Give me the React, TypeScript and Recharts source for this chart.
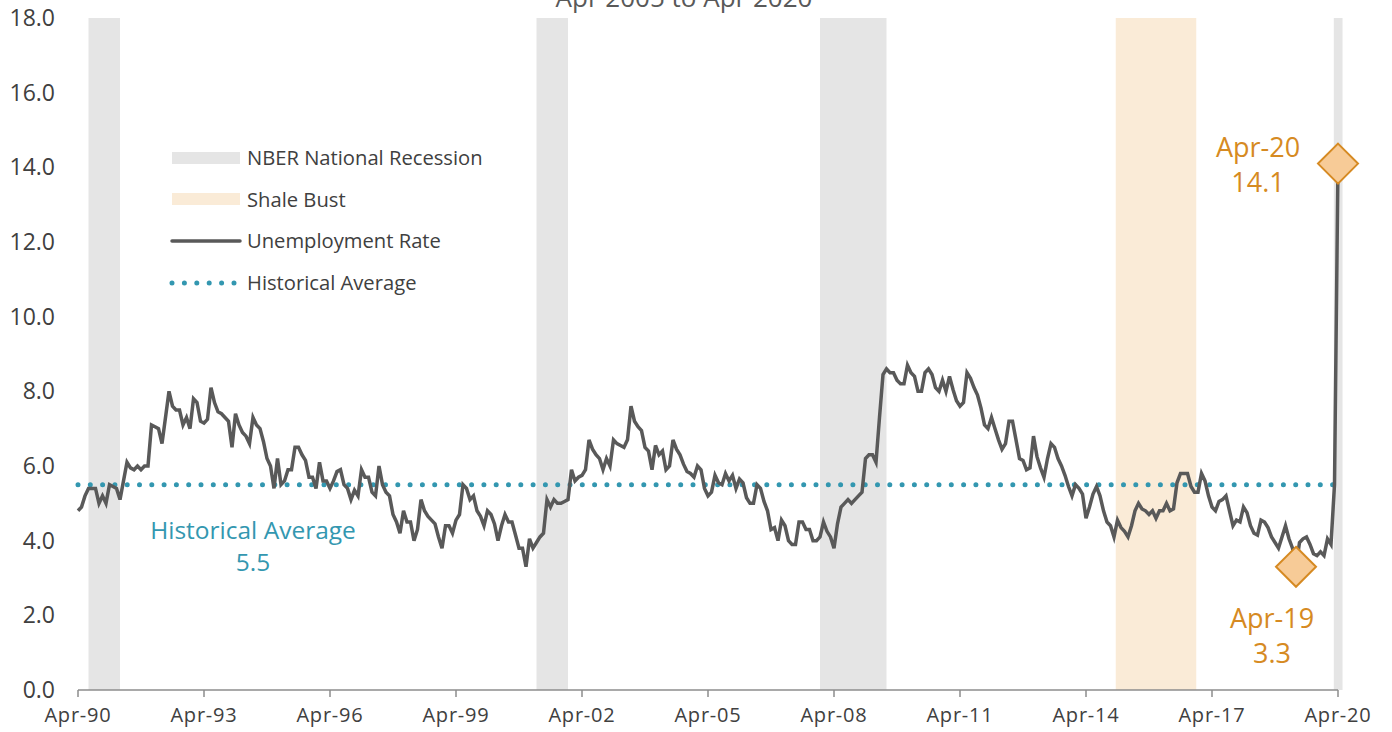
import React from 'react';
import {
    ComposedChart,
    Line,
    XAxis,
    YAxis,
    ReferenceArea,
    ReferenceLine,
    ReferenceDot,
} from 'recharts';

// monthly unemployment rate, Apr-90 .. Apr-20 (one row per Apr..Mar year)
const rates = [
    4.8, 4.9, 5.2, 5.4, 5.4, 5.4, 5.0, 5.2, 5.0, 5.5, 5.45, 5.4,
    5.1, 5.6, 6.1, 5.95, 5.9, 6.0, 5.9, 6.0, 6.0, 7.1, 7.05, 7.0,
    6.6, 7.3, 8.0, 7.6, 7.5, 7.5, 7.1, 7.3, 7.0, 7.8, 7.7, 7.2,
    7.15, 7.25, 8.1, 7.7, 7.45, 7.4, 7.3, 7.2, 6.5, 7.4, 7.1, 6.9,
    6.8, 6.6, 7.3, 7.1, 7.0, 6.65, 6.2, 6.0, 5.4, 6.2, 5.5, 5.6,
    5.9, 5.9, 6.5, 6.5, 6.3, 6.15, 5.7, 5.7, 5.4, 6.1, 5.6, 5.6,
    5.4, 5.6, 5.85, 5.9, 5.5, 5.4, 5.1, 5.35, 5.2, 5.9, 5.7, 5.7,
    5.3, 5.2, 6.0, 5.5, 5.3, 5.2, 4.7, 4.5, 4.2, 4.8, 4.5, 4.5,
    4.0, 4.3, 5.1, 4.8, 4.65, 4.55, 4.45, 4.1, 3.8, 4.4, 4.4, 4.2,
    4.55, 4.7, 5.5, 5.4, 5.1, 5.2, 4.8, 4.65, 4.4, 4.8, 4.7, 4.45,
    4.0, 4.4, 4.7, 4.5, 4.5, 4.15, 3.8, 3.8, 3.3, 4.05, 3.8, 3.95,
    4.1, 4.2, 5.1, 4.9, 5.1, 5.0, 5.0, 5.05, 5.1, 5.9, 5.6, 5.7,
    5.75, 5.9, 6.7, 6.45, 6.3, 6.2, 5.9, 6.2, 6.0, 6.7, 6.6, 6.55,
    6.5, 6.7, 7.6, 7.2, 7.05, 6.95, 6.5, 6.4, 5.9, 6.55, 6.3, 6.4,
    5.9, 6.0, 6.7, 6.45, 6.3, 6.05, 5.85, 5.8, 5.7, 6.0, 5.9, 5.4,
    5.2, 5.3, 5.75, 5.55, 5.5, 5.8, 5.6, 5.75, 5.4, 5.65, 5.55, 5.15,
    5.0, 5.0, 5.5, 5.4, 5.05, 4.8, 4.3, 4.35, 4.0, 4.55, 4.4, 4.0,
    3.9, 3.9, 4.5, 4.5, 4.3, 4.3, 4.0, 4.0, 4.1, 4.5, 4.25, 4.1,
    3.8, 4.45, 4.9, 5.0, 5.1, 5.0, 5.1, 5.2, 5.3, 6.2, 6.3, 6.3,
    6.1, 7.3, 8.45, 8.6, 8.5, 8.5, 8.3, 8.2, 8.2, 8.7, 8.5, 8.4,
    8.0, 8.0, 8.5, 8.6, 8.45, 8.1, 8.0, 8.3, 8.0, 8.4, 8.05, 7.75,
    7.6, 7.7, 8.5, 8.35, 8.1, 7.9, 7.55, 7.1, 7.0, 7.3, 7.0, 6.7,
    6.45, 6.6, 7.2, 7.2, 6.7, 6.2, 6.15, 5.9, 5.95, 6.8, 6.25, 5.95,
    5.7, 6.2, 6.6, 6.5, 6.2, 6.0, 5.75, 5.45, 5.2, 5.5, 5.4, 5.25,
    4.6, 4.9, 5.25, 5.45, 5.2, 4.8, 4.5, 4.4, 4.1, 4.55, 4.35, 4.25,
    4.1, 4.4, 4.8, 5.0, 4.85, 4.8, 4.7, 4.8, 4.6, 4.8, 4.8, 5.0,
    4.8, 4.85, 5.55, 5.8, 5.8, 5.8, 5.45, 5.3, 5.3, 5.8, 5.6, 5.2,
    4.9, 4.8, 5.05, 5.1, 5.2, 4.8, 4.4, 4.55, 4.5, 4.9, 4.75, 4.4,
    4.2, 4.15, 4.55, 4.5, 4.35, 4.1, 3.95, 3.8, 4.1, 4.4, 4.05, 3.8,
    3.3, 3.95, 4.05, 4.1, 3.9, 3.65, 3.6, 3.7, 3.6, 4.05, 3.9, 5.5,
    14.1,
];

const xTickLabels = ['Apr-90', 'Apr-93', 'Apr-96', 'Apr-99', 'Apr-02', 'Apr-05', 'Apr-08', 'Apr-11', 'Apr-14', 'Apr-17', 'Apr-20'];
const xTicks = xTickLabels.map((_, i) => i * 36);
const yTicks = [0, 2, 4, 6, 8, 10, 12, 14, 16, 18];

// month index ranges (0 = Apr-90)
const recessions = [[3, 12], [131, 140], [212, 231], [358.8, 361.3]];
const shaleBust = [296.5, 319.5];
const historicalAverage = 5.5;
const callouts = [
    { name: 'Apr-19', m: 348, value: 3.3 },
    { name: 'Apr-20', m: 360, value: 14.1 },
];

const data = rates.map((rate, m) => ({ m, rate }));

const FONT = '"Open Sans", sans-serif';
const GREY_BAND = '#E5E5E5';
const SHALE = '#FAEBD7';
const LINE = '#595959';
const TEAL = '#3397B0';
const ORANGE = '#D68A22';
const TEXT = '#404040';

const calloutOffsets: Record<string, { dx: number; dy: number }> = {
    'Apr-19': { dx: -24, dy: 61 },
    'Apr-20': { dx: -80, dy: -7 },
};

const Diamond = (props: any) => {
    const { cx, cy, name, value } = props;
    const off = calloutOffsets[name];
    const h = 20;
    return (
        <g>
            <polygon
                points={`${cx},${cy - h} ${cx + h},${cy} ${cx},${cy + h} ${cx - h},${cy}`}
                fill="#F7CB97"
                stroke={ORANGE}
                strokeWidth={2}
            />
            <text textAnchor="middle" fill={ORANGE} fontSize={27} fontFamily={FONT}>
                <tspan x={cx + off.dx} y={cy + off.dy}>{name}</tspan>
                <tspan x={cx + off.dx} y={cy + off.dy + 35}>{value.toFixed(1)}</tspan>
            </text>
        </g>
    );
};

const AverageLabel = (props: any) => {
    const { viewBox } = props;
    const x = viewBox.x + 175;
    return (
        <text textAnchor="middle" fill={TEAL} fontSize={24.5} fontFamily={FONT}>
            <tspan x={x} y={viewBox.y + 54}>Historical Average</tspan>
            <tspan x={x} y={viewBox.y + 86}>{historicalAverage.toFixed(1)}</tspan>
        </text>
    );
};

const legendItems = ['NBER National Recession', 'Shale Bust', 'Unemployment Rate', 'Historical Average'];

const LegendBox = () => (
    <svg width={360} height={170} style={{ position: 'absolute', left: 160, top: 140, pointerEvents: 'none' }}>
        <rect x={12} y={12} width={68} height={12} fill={GREY_BAND} />
        <rect x={12} y={53} width={68} height={12} fill={SHALE} />
        <line x1={12} y1={101} x2={80} y2={101} stroke={LINE} strokeWidth={3.5} strokeLinecap="round" />
        <line x1={12} y1={143} x2={80} y2={143} stroke={TEAL} strokeWidth={5} strokeDasharray="0 12.4" strokeLinecap="round" />
        {legendItems.map((label, i) => (
            <text key={label} x={87} y={25 + i * 41.7} fill={TEXT} fontSize={20.2} fontFamily={FONT}>
                {label}
            </text>
        ))}
    </svg>
);

export default function App() {
    return (
        <div style={{ position: 'absolute', left: 0, top: 0, width: 1392, height: 732, overflow: 'hidden', background: '#fff' }}>
            <ComposedChart
                width={1392}
                height={732}
                data={data}
                margin={{ top: 18, right: 54, bottom: 0, left: 18 }}
            >
                {recessions.map(([a, b], i) => (
                    <ReferenceArea key={i} x1={a} x2={b} y1={0} y2={18} fill={GREY_BAND} fillOpacity={1} stroke="none" ifOverflow="visible" />
                ))}
                <ReferenceArea x1={shaleBust[0]} x2={shaleBust[1]} y1={0} y2={18} fill={SHALE} fillOpacity={1} stroke="none" />
                <XAxis
                    dataKey="m"
                    type="number"
                    domain={[0, 360]}
                    ticks={xTicks}
                    interval={0}
                    tickFormatter={(v: number) => xTickLabels[v / 36]}
                    height={42}
                    stroke="#8C8C8C"
                    strokeWidth={1.5}
                    tickSize={7}
                    tickMargin={11}
                    tick={{ fill: TEXT, fontSize: 20, fontFamily: FONT, letterSpacing: 0.8 }}
                />
                <YAxis
                    domain={[0, 18]}
                    ticks={yTicks}
                    interval={0}
                    width={60}
                    axisLine={false}
                    tickLine={false}
                    tickMargin={17}
                    tickFormatter={(v: number) => v.toFixed(1)}
                    tick={{ fill: TEXT, fontSize: 23, fontFamily: FONT }}
                />
                <ReferenceLine
                    y={historicalAverage}
                    stroke={TEAL}
                    strokeWidth={5}
                    strokeDasharray="0 12.3"
                    strokeLinecap="round"
                    label={<AverageLabel />}
                />
                <Line
                    type="linear"
                    dataKey="rate"
                    stroke={LINE}
                    strokeWidth={3.5}
                    dot={false}
                    isAnimationActive={false}
                />
                {callouts.map((c) => (
                    <ReferenceDot
                        key={c.name}
                        x={c.m}
                        y={c.value}
                        ifOverflow="visible"
                        shape={(p: any) => <Diamond {...p} name={c.name} value={c.value} />}
                    />
                ))}
            </ComposedChart>
            <LegendBox />
            <svg width={1392} height={20} style={{ position: 'absolute', left: 0, top: 0, pointerEvents: 'none' }}>
                <text x={684} y={7} textAnchor="middle" fill={LINE} fontSize={26} fontFamily={FONT}>
                    Apr 2005 to Apr 2020
                </text>
            </svg>
        </div>
    );
}
